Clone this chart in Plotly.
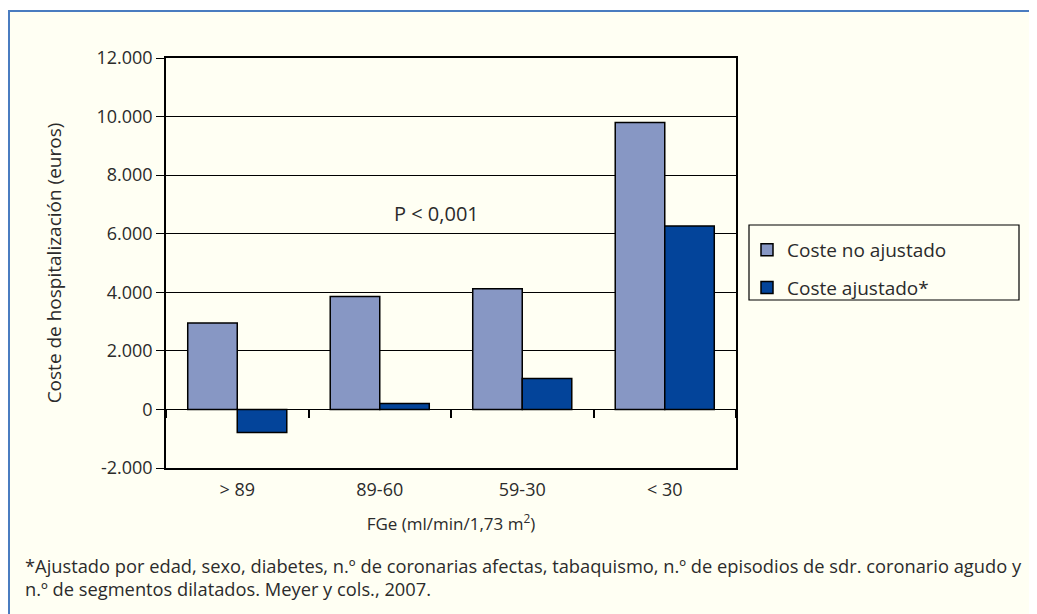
import plotly.graph_objects as go

categories = ["> 89", "89-60", "59-30", "< 30"]
coste_no_ajustado = [2950, 3860, 4120, 9800]
coste_ajustado = [-790, 200, 1060, 6260]
ytick_vals = [-2000, 0, 2000, 4000, 6000, 8000, 10000, 12000]
ytick_text = ["-2.000", "0", "2.000", "4.000", "6.000", "8.000", "10.000", "12.000"]

FONT = "Open Sans"
TXT = "#2b2b2b"
BG = "#FFFFF3"
LIGHT = "#8797C4"
DARK = "#03449A"

OFF = 8  # default page margin of the html body
W, H = 1037 - OFF, 614 - OFF
L, T = 166 - OFF, 58 - OFF
R = W - (736 - OFF)
B = H - (468 - OFF)
pw, ph = W - L - R, H - T - B
ymin, ymax = -2000, 12000


def px_x(px):
    return (px - OFF - L) / pw


def px_y(py):
    return (H - B - (py - OFF)) / ph


fig = go.Figure()
fig.add_trace(go.Bar(
    x=categories, y=coste_no_ajustado, name="Coste no ajustado",
    marker=dict(color=LIGHT, line=dict(color="black", width=1.5)),
    legendgroup="a",
))
fig.add_trace(go.Bar(
    x=categories, y=coste_ajustado, name="Coste ajustado*",
    marker=dict(color=DARK, line=dict(color="black", width=1.5)),
    legendgroup="b",
))
# invisible trace to carry the boundary ticks on the zero line
fig.add_trace(go.Scatter(
    x=categories, y=[None] * len(categories), xaxis="x2",
    showlegend=False, hoverinfo="skip",
))

fig.update_layout(
    width=W, height=H,
    margin=dict(l=L, r=R, t=T, b=B),
    paper_bgcolor="white",
    plot_bgcolor=BG,
    separators=",.",
    font=dict(family=FONT, size=18, color=TXT),
    barmode="group",
    bargap=0.305,
    bargroupgap=0,
    showlegend=True,
    legend=dict(
        x=px_x(747), y=px_y(231), xanchor="left", yanchor="top",
        bgcolor="rgba(0,0,0,0)", borderwidth=0,
        font=dict(family=FONT, size=19, color=TXT),
        traceorder="grouped", tracegroupgap=10,
    ),
    xaxis=dict(
        type="category", range=[-0.5, 3.5],
        showline=True, linecolor="black", linewidth=2, mirror=True,
        ticks="", showgrid=False, ticklabelstandoff=4,
        tickfont=dict(family=FONT, size=18, color=TXT),
        title=dict(text="FGe (ml/min/1,73 m<sup>2</sup>)",
                   font=dict(family=FONT, size=17, color=TXT), standoff=19),
    ),
    xaxis2=dict(
        type="category", overlaying="x", anchor="free", range=[-0.5, 3.5],
        position=(0 - ymin) / (ymax - ymin),
        tickson="boundaries", ticks="outside", ticklen=8, tickwidth=1.5,
        tickcolor="black", showticklabels=False, showline=False, showgrid=False,
    ),
    yaxis=dict(
        range=[ymin, ymax],
        tickvals=ytick_vals, ticktext=ytick_text,
        showline=True, linecolor="black", linewidth=1.5, mirror=True,
        ticks="outside", ticklen=8, tickcolor="black", tickwidth=1,
        showgrid=True, gridcolor="black", gridwidth=1,
        zeroline=True, zerolinecolor="black", zerolinewidth=1,
        tickfont=dict(family=FONT, size=18, color=TXT),
        title=dict(text="Coste de hospitalización (euros)",
                   font=dict(family=FONT, size=19, color=TXT), standoff=30),
    ),
    shapes=[
        dict(type="rect", xref="paper", yref="paper", layer="below",
             x0=px_x(9), x1=px_x(1060), y0=px_y(640), y1=px_y(11),
             line=dict(color="#4A7CC0", width=2), fillcolor=BG),
        dict(type="rect", xref="paper", yref="paper", layer="above",
             x0=px_x(749), x1=px_x(1019), y0=px_y(300), y1=px_y(225),
             line=dict(color="black", width=1.2)),
    ],
    annotations=[
        dict(text="P < 0,001", xref="paper", yref="y", x=px_x(436), y=6700,
             showarrow=False, font=dict(family=FONT, size=20, color=TXT)),
        dict(text="*Ajustado por edad, sexo, diabetes, n.º de coronarias afectas, tabaquismo, "
                  "n.º de episodios de sdr. coronario agudo y",
             xref="paper", yref="paper", x=px_x(23), y=px_y(565),
             xanchor="left", yanchor="middle", showarrow=False,
             font=dict(family=FONT, size=18.3, color=TXT)),
        dict(text="n.º de segmentos dilatados. Meyer y cols., 2007.",
             xref="paper", yref="paper", x=px_x(23), y=px_y(588),
             xanchor="left", yanchor="middle", showarrow=False,
             font=dict(family=FONT, size=18.3, color=TXT)),
    ],
)

fig.write_html("out.html")
